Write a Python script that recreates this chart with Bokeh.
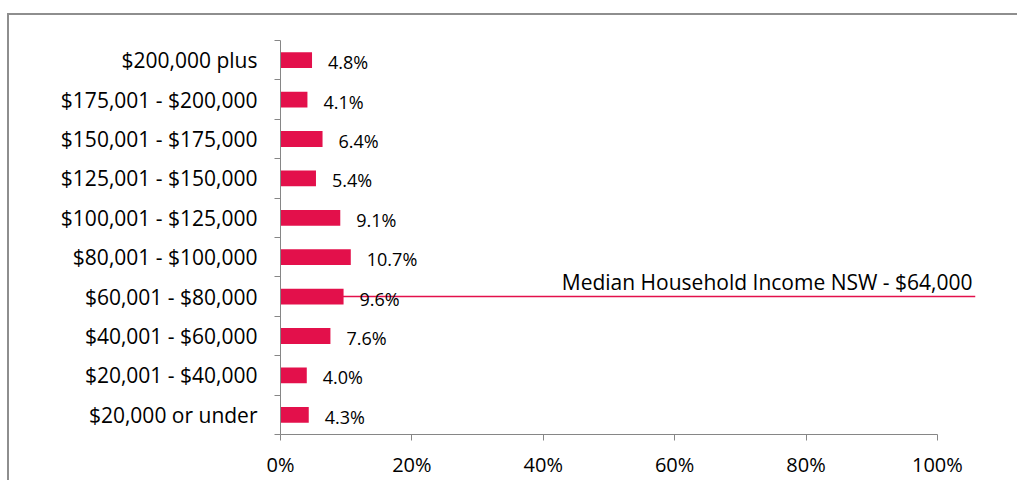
import numpy as np
from bokeh.plotting import figure
from bokeh.models import Range1d, FixedTicker, PrintfTickFormatter, ColumnDataSource
from bokeh.embed import file_html
from bokeh.resources import INLINE
from bokeh.core.properties import value

categories = ["$20,000 or under", "$20,001 - $40,000", "$40,001 - $60,000",
              "$60,001 - $80,000", "$80,001 - $100,000", "$100,001 - $125,000",
              "$125,001 - $150,000", "$150,001 - $175,000", "$175,001 - $200,000",
              "$200,000 plus"]
shares = [4.3, 4.0, 7.6, 9.6, 10.7, 9.1, 5.4, 6.4, 4.1, 4.8]
x_ticks = [0, 20, 40, 60, 80, 100]
median_category = "$60,001 - $80,000"
median_label = "Median Household Income NSW - $64,000"

RED = "#E3104B"
GRAY = "#868686"
FONT = "Open Sans"
X_END = 105.8

ypos = [i + 0.5 for i in range(len(categories))]
src = ColumnDataSource(dict(y=ypos, share=shares,
                            label=[f"{v:.1f}%" for v in shares]))

p = figure(width=1017, height=480, output_backend="svg", toolbar_location=None,
           x_range=Range1d(0, X_END), y_range=Range1d(0, len(categories)),
           min_border_left=280, min_border_right=42, min_border_top=40,
           min_border_bottom=43,
           styles={"box-shadow": "inset 7px 13px 0 0 white, inset 9px 15px 0 0 #8e8e8e",
                   "background-color": "white"})
p.outline_line_color = None
p.grid.grid_line_color = None
p.background_fill_color = "white"
p.border_fill_color = None

p.hbar(y="y", left=0, right="share", height=0.4, source=src,
       fill_color=RED, line_color=None)

ymed = ypos[categories.index(median_category)]
p.segment(x0=[0], x1=[X_END], y0=[ymed], y1=[ymed], line_color=RED, line_width=1.5)

p.text(x="share", y="y", text="label", source=src, x_offset=16, y_offset=2,
       text_baseline="middle", text_align="left", text_font=value(FONT),
       text_font_size="18px", text_color="black")

p.text(x=[X_END], y=[ymed], text=[median_label], x_offset=-3, y_offset=-1,
       text_baseline="bottom", text_align="right", text_font=value(FONT),
       text_font_size="21px", text_color="black")

xa = p.xaxis[0]
xa.ticker = FixedTicker(ticks=x_ticks)
xa.formatter = PrintfTickFormatter(format="%d%%")
xa.bounds = (0, 100)
xa.axis_line_color = GRAY
xa.major_tick_line_color = GRAY
xa.major_tick_in = 0
xa.major_tick_out = 6
xa.minor_tick_line_color = None
xa.major_label_text_font = FONT
xa.major_label_text_font_size = "20px"
xa.major_label_text_color = "black"
xa.major_label_standoff = 10

ya = p.yaxis[0]
ya.ticker = FixedTicker(ticks=ypos, minor_ticks=list(range(len(categories) + 1)))
ya.major_label_overrides = {y: c for y, c in zip(ypos, categories)}
ya.axis_line_color = GRAY
ya.major_tick_line_color = None
ya.major_tick_in = 0
ya.major_tick_out = 0
ya.minor_tick_line_color = GRAY
ya.minor_tick_in = 0
ya.minor_tick_out = 6
ya.major_label_text_font = FONT
ya.major_label_text_font_size = "21px"
ya.major_label_text_color = "black"
ya.major_label_standoff = 17

open("out.html", "w").write(file_html(p, INLINE))
